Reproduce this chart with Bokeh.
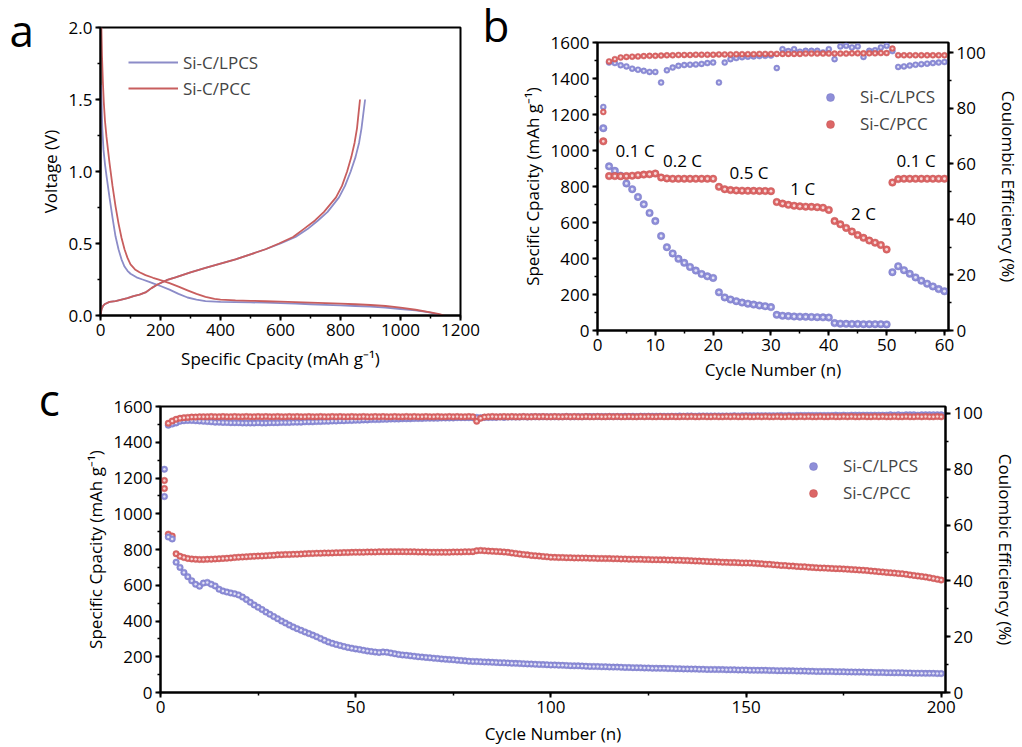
from bokeh.plotting import figure
from bokeh.models import (Range1d, LinearAxis, SingleIntervalTicker, Legend, LegendItem,
                          Label, NumeralTickFormatter)
from bokeh.layouts import column, row
from bokeh.embed import file_html
from bokeh.resources import INLINE
from bokeh.core.properties import value

FONT = "Open Sans"
BLUE = "#8e8ed8"
BLUE_EDGE = "#7070c0"
RED = "#dc6666"
RED_EDGE = "#c04c4c"
BLUE_LINE = "#8c8cc8"
RED_LINE = "#c85e5e"
SERIES = ["Si-C/LPCS", "Si-C/PCC"]

# ---------------- panel a : voltage profiles ----------------
lpcs_dis_cap = [2, 4, 6, 10, 15, 20, 30, 40, 50, 60, 70, 80, 90, 100, 120, 140, 160, 180, 200, 230,
                260, 290, 320, 350, 400, 450, 500, 550, 600, 650, 700, 750, 800, 850, 900, 950, 1000,
                1050, 1080, 1100, 1120, 1135]
lpcs_dis_v = [1.60, 1.45, 1.30, 1.15, 1.05, 0.97, 0.82, 0.68, 0.55, 0.46, 0.39, 0.34, 0.31, 0.29, 0.265,
              0.25, 0.235, 0.22, 0.205, 0.18, 0.15, 0.125, 0.11, 0.10, 0.095, 0.093, 0.091, 0.089, 0.086,
              0.082, 0.078, 0.074, 0.07, 0.066, 0.062, 0.055, 0.045, 0.035, 0.027, 0.02, 0.01, 0.0]
pcc_dis_cap = [3, 5, 8, 11, 15, 20, 30, 40, 50, 60, 70, 80, 90, 100, 115, 130, 150, 175, 200, 230, 260,
               290, 320, 350, 380, 400, 450, 500, 550, 600, 650, 700, 750, 800, 850, 900, 950, 1000, 1050,
               1100, 1130, 1145]
pcc_dis_v = [2.00, 1.80, 1.62, 1.48, 1.35, 1.24, 1.06, 0.90, 0.76, 0.64, 0.54, 0.46, 0.40, 0.355, 0.32,
             0.30, 0.28, 0.262, 0.245, 0.225, 0.2, 0.175, 0.15, 0.13, 0.115, 0.11, 0.105, 0.102, 0.099,
             0.096, 0.093, 0.09, 0.086, 0.082, 0.078, 0.073, 0.066, 0.055, 0.04, 0.022, 0.01, 0.0]
lpcs_ch_cap = [0, 3, 8, 15, 30, 50, 70, 90, 110, 130, 150, 170, 190, 220, 250, 300, 350, 400, 450, 500,
               550, 600, 650, 690, 725, 757, 795, 815, 834, 850, 862, 870, 876, 882]
lpcs_ch_v = [0.0, 0.04, 0.065, 0.08, 0.095, 0.1, 0.11, 0.12, 0.135, 0.145, 0.16, 0.19, 0.215, 0.245,
             0.265, 0.3, 0.33, 0.36, 0.39, 0.425, 0.46, 0.5, 0.545, 0.6, 0.66, 0.72, 0.82, 0.9, 1.0, 1.1,
             1.2, 1.3, 1.4, 1.5]
pcc_ch_cap = [0, 3, 8, 15, 30, 50, 70, 90, 110, 130, 150, 170, 190, 220, 250, 300, 350, 400, 450, 500,
              550, 595, 642, 677, 715, 745, 785, 805, 822, 836, 847, 855, 860, 865]
pcc_ch_v = [0.0, 0.04, 0.065, 0.08, 0.095, 0.1, 0.11, 0.12, 0.135, 0.145, 0.16, 0.19, 0.215, 0.245,
            0.265, 0.3, 0.33, 0.36, 0.39, 0.425, 0.46, 0.5, 0.545, 0.6, 0.66, 0.72, 0.82, 0.9, 1.0, 1.1,
            1.2, 1.3, 1.4, 1.5]

# ---------------- panel b : rate performance ----------------
cycles_b = list(range(1, 61))
lpcs_cap_b = [1124, 912, 887, 860, 817, 785, 742, 701, 653, 608,
              525, 463, 428, 398, 376, 353, 333, 314, 301, 292,
              212, 184, 172, 163, 155, 149, 144, 139, 135, 130,
              87, 82, 80, 78, 77, 76, 75, 74, 73, 72,
              41, 38, 37, 36, 36, 35, 35, 35, 35, 34,
              324, 357, 335, 315, 295, 277, 260, 245, 230, 218]
pcc_cap_b = [1051, 858, 858, 857, 858, 860, 863, 866, 868, 872,
             850, 845, 843, 843, 843, 843, 843, 843, 843, 843,
             798, 785, 780, 778, 777, 776, 776, 775, 775, 774,
             714, 705, 698, 693, 690, 688, 687, 685, 682, 670,
             608, 590, 570, 550, 530, 515, 500, 488, 475, 450,
             822, 841, 843, 843, 843, 843, 843, 843, 843, 843]
lpcs_ce_b = [80.4, 96.4, 96.2, 95.4, 95.0, 94.2, 93.8, 93.4, 93.0, 93.0,
             89.2, 93.6, 94.6, 95.2, 95.5, 95.6, 95.7, 95.9, 96.2, 96.4,
             89.2, 96.4, 97.6, 98.0, 98.3, 98.5, 98.6, 98.7, 98.8, 98.9,
             94.4, 101.2, 100.5, 101.2, 100.3, 100.6, 100.6, 100.6, 100.0, 101.2,
             97.6, 102.2, 102.4, 101.8, 102.2, 98.4, 100.6, 100.8, 101.8, 102.4,
             100.5, 94.8, 95.0, 95.3, 95.6, 95.8, 96.0, 96.2, 96.4, 96.6]
pcc_ce_b = [78.6, 96.8, 97.6, 98.2, 98.4, 98.5, 98.6, 98.7, 98.8, 98.8,
            98.9, 99.0, 99.0, 99.1, 99.1, 99.1, 99.2, 99.2, 99.2, 99.2,
            99.3, 99.3, 99.3, 99.4, 99.4, 99.4, 99.4, 99.5, 99.5, 99.5,
            99.5, 99.5, 99.5, 99.5, 99.5, 99.6, 99.6, 99.6, 99.6, 99.6,
            99.6, 99.6, 99.6, 99.7, 99.7, 99.7, 99.7, 99.7, 99.8, 99.8,
            101.4, 99.0, 99.0, 99.0, 99.0, 99.0, 99.0, 99.0, 99.0, 99.0]
rate_labels = ["0.1 C", "0.2 C", "0.5 C", "1 C", "2 C", "0.1 C"]
rate_label_x = [6.5, 14.7, 26.2, 35.5, 46.0, 55.1]
rate_label_y = [999, 943, 878, 789, 651, 943]

# ---------------- panel c : long cycling ----------------
cycles_c = list(range(1, 201))
lpcs_cap_c = [1096, 870, 859, 729, 700, 672, 648, 625, 605, 595,
              612, 616, 606, 596, 578, 568, 562, 557, 552, 546,
              534, 520, 505, 490, 477, 464, 450, 438, 425, 413,
              400, 389, 377, 367, 357, 348, 339, 330, 321, 312,
              302, 292, 283, 275, 269, 263, 257, 252, 248, 244,
              240, 236, 232, 229, 226, 224, 227, 225, 221, 217,
              213, 210, 208, 205, 203, 200, 198, 196, 194, 192,
              190, 188, 186, 184, 183, 181, 179, 177, 175, 174,
              173, 172, 171, 170, 169, 168, 167, 166, 165, 164,
              163, 162, 161, 160, 159, 158, 157, 156, 155, 154,
              154, 153, 152, 151, 150, 149, 149, 148, 147, 146,
              146, 145, 144, 144, 143, 142, 142, 141, 140, 140,
              139, 139, 138, 137, 137, 136, 136, 135, 135, 134,
              134, 133, 133, 132, 132, 131, 131, 130, 130, 129,
              129, 129, 128, 128, 127, 127, 127, 126, 126, 126,
              125, 125, 124, 124, 124, 123, 123, 122, 122, 122,
              121, 121, 120, 120, 120, 119, 119, 118, 118, 118,
              117, 117, 116, 116, 116, 115, 115, 114, 114, 114,
              113, 113, 112, 112, 112, 111, 111, 110, 110, 110,
              109, 109, 108, 108, 108, 107, 107, 107, 106, 106]
pcc_cap_c = [1141, 886, 875, 776, 762, 755, 750, 747, 745, 744,
             744, 745, 746, 747, 748, 750, 751, 753, 755, 757,
             758, 759, 761, 762, 763, 764, 765, 767, 768, 770,
             771, 772, 772, 773, 774, 775, 776, 777, 778, 779,
             779, 780, 780, 781, 782, 782, 783, 783, 784, 785,
             785, 785, 786, 786, 786, 787, 787, 787, 788, 788,
             788, 788, 787, 787, 787, 786, 786, 786, 785, 785,
             785, 785, 785, 785, 786, 786, 786, 787, 787, 788,
             793, 795, 793, 791, 790, 789, 788, 786, 784, 781,
             778, 775, 772, 770, 767, 765, 763, 761, 759, 757,
             756, 755, 755, 754, 754, 753, 753, 752, 752, 751,
             751, 750, 750, 749, 749, 748, 748, 747, 747, 746,
             746, 745, 745, 744, 744, 743, 743, 742, 742, 741,
             741, 740, 740, 739, 738, 737, 736, 735, 734, 733,
             732, 731, 730, 729, 728, 727, 727, 726, 725, 725,
             724, 723, 721, 720, 718, 717, 715, 713, 711, 710,
             708, 707, 705, 704, 703, 701, 700, 698, 697, 696,
             695, 694, 693, 692, 691, 690, 688, 687, 685, 684,
             682, 680, 678, 676, 674, 672, 670, 668, 666, 664,
             661, 658, 655, 652, 649, 646, 642, 638, 634, 629]
lpcs_ce_c = [80.0, 95.8, 96.2, 96.6, 97.2, 97.4, 97.5, 97.5, 97.4, 97.3,
             97.2, 97.1, 97.0, 96.9, 96.9, 96.8, 96.8, 96.7, 96.7, 96.7,
             96.6, 96.6, 96.6, 96.6, 96.7, 96.6, 96.6, 96.7, 96.7, 96.7,
             96.8, 96.8, 96.8, 96.9, 96.9, 96.9, 97.0, 97.0, 97.0, 97.1,
             97.1, 97.2, 97.2, 97.3, 97.3, 97.4, 97.4, 97.5, 97.5, 97.6,
             97.6, 97.7, 97.7, 97.8, 97.8, 97.8, 97.9, 97.9, 98.0, 98.0,
             98.0, 98.1, 98.1, 98.1, 98.2, 98.2, 98.2, 98.3, 98.3, 98.3,
             98.3, 98.4, 98.4, 98.4, 98.4, 98.5, 98.5, 98.5, 98.5, 98.5,
             98.6, 98.5, 98.6, 98.6, 98.6, 98.6, 98.7, 98.6, 98.7, 98.7,
             98.7, 98.7, 98.8, 98.7, 98.8, 98.8, 98.8, 98.8, 98.8, 98.8,
             98.8, 98.8, 98.8, 98.9, 98.8, 98.8, 98.9, 98.8, 98.9, 98.9,
             98.9, 98.9, 98.9, 98.9, 98.9, 98.9, 98.9, 98.9, 99.0, 98.9,
             99.0, 98.9, 99.0, 99.0, 99.0, 99.0, 99.0, 99.0, 99.0, 99.0,
             99.0, 99.0, 99.1, 99.0, 99.1, 99.1, 99.0, 99.1, 99.1, 99.1,
             99.1, 99.1, 99.1, 99.1, 99.1, 99.1, 99.2, 99.1, 99.2, 99.2,
             99.2, 99.2, 99.2, 99.2, 99.2, 99.2, 99.2, 99.2, 99.3, 99.2,
             99.3, 99.2, 99.3, 99.3, 99.3, 99.3, 99.3, 99.3, 99.3, 99.3,
             99.3, 99.3, 99.4, 99.3, 99.4, 99.3, 99.4, 99.4, 99.4, 99.4,
             99.4, 99.4, 99.4, 99.4, 99.4, 99.4, 99.5, 99.4, 99.5, 99.4,
             99.5, 99.5, 99.5, 99.4, 99.5, 99.5, 99.5, 99.5, 99.5, 99.5]
pcc_ce_c = [76.0, 96.5, 97.3, 97.9, 98.3, 98.5, 98.6, 98.7, 98.7, 98.8,
            98.8, 98.8, 98.9, 98.8, 98.8, 98.9, 98.8, 98.8, 98.9, 98.8,
            98.8, 98.9, 98.8, 98.8, 98.9, 98.8, 98.9, 98.8, 98.8, 98.9,
            98.8, 98.8, 98.9, 98.8, 98.9, 98.8, 98.8, 98.9, 98.8, 98.8,
            98.9, 98.8, 98.8, 98.9, 98.8, 98.9, 98.8, 98.8, 98.9, 98.8,
            98.8, 98.9, 98.8, 98.8, 98.9, 98.8, 98.9, 98.8, 98.8, 98.9,
            98.8, 98.8, 98.9, 98.8, 98.9, 98.8, 98.8, 98.9, 98.8, 98.8,
            98.9, 98.8, 98.8, 98.9, 98.8, 98.9, 98.8, 98.8, 98.9, 98.8,
            97.2, 98.3, 98.7, 98.8, 98.9, 98.8, 98.8, 98.9, 98.8, 98.9,
            98.8, 98.8, 98.9, 98.8, 98.8, 98.9, 98.8, 98.9, 98.8, 98.8,
            98.9, 98.8, 98.8, 98.9, 98.8, 98.9, 98.8, 98.8, 98.9, 98.8,
            98.8, 98.9, 98.8, 98.8, 98.9, 98.8, 98.9, 98.8, 98.8, 98.9,
            98.8, 98.8, 98.9, 98.8, 98.9, 98.8, 98.8, 98.9, 98.8, 98.8,
            98.9, 98.8, 98.8, 98.9, 98.8, 98.9, 98.8, 98.8, 98.9, 98.8,
            98.8, 98.9, 98.8, 98.8, 98.9, 98.8, 98.9, 98.8, 98.8, 98.9,
            98.8, 98.8, 98.9, 98.8, 98.9, 98.8, 98.8, 98.9, 98.8, 98.8,
            98.9, 98.8, 98.8, 98.9, 98.8, 98.9, 98.8, 98.8, 98.9, 98.8,
            98.8, 98.9, 98.8, 98.8, 98.9, 98.8, 98.9, 98.8, 98.8, 98.9,
            98.8, 98.8, 98.9, 98.8, 98.9, 98.8, 98.8, 98.9, 98.8, 98.8,
            98.9, 98.8, 98.8, 98.9, 98.8, 98.9, 98.8, 98.8, 98.9, 98.8]


def style_axis(ax):
    ax.axis_line_width = 2
    ax.axis_line_color = "black"
    ax.major_tick_line_width = 2
    ax.major_tick_line_color = "black"
    ax.minor_tick_line_width = 1.5
    ax.minor_tick_line_color = "black"
    ax.major_tick_in = 0
    ax.major_tick_out = 5
    ax.minor_tick_in = 0
    ax.minor_tick_out = 3
    ax.major_label_text_font = FONT
    ax.major_label_text_font_size = "17px"
    ax.major_label_text_color = "black"
    ax.major_label_standoff = 3
    ax.axis_label_text_font = FONT
    ax.axis_label_text_font_size = "17px"
    ax.axis_label_text_font_style = "normal"
    ax.axis_label_text_color = "black"
    ax.axis_label_standoff = 4


def base_fig(width, height, xr, yr, bl, br, bt, bb, **kw):
    p = figure(width=width, height=height, x_range=xr, y_range=yr, output_backend="svg",
               toolbar_location=None, min_border_left=bl, min_border_right=br,
               min_border_top=bt, min_border_bottom=bb, title=None, **kw)
    p.grid.visible = False
    p.outline_line_color = "black"
    p.outline_line_width = 2
    p.outline_line_alpha = 1
    p.background_fill_color = "white"
    p.border_fill_color = "white"
    return p


def panel_letter(p, text, x, y, side="left"):
    # placed in a side panel so that it is not clipped to the plot frame
    p.add_layout(Label(x=x, y=y, text=text, text_font=FONT, text_font_size="44px",
                       text_color="black", text_baseline="alphabetic", text_align="left"), side)


def spheres(p, x, y, color, edge, size, y_range_name="default"):
    r1 = p.scatter(x, y, size=size, fill_color=color, line_color=edge, line_width=0.6,
                   line_alpha=0.7, y_range_name=y_range_name)
    p.scatter(x, y, size=size * 0.38, fill_color="white", fill_alpha=0.75, line_color=None,
              y_range_name=y_range_name)
    return r1


# ---------- figure a ----------
pa = base_fig(515, 375, Range1d(0, 1200), Range1d(0, 2.0), 100, 55, 27, 60)
la1 = pa.line(lpcs_dis_cap, lpcs_dis_v, line_color=BLUE_LINE, line_width=1.8)
pa.line(lpcs_ch_cap, lpcs_ch_v, line_color=BLUE_LINE, line_width=1.8)
lb1 = pa.line(pcc_dis_cap, pcc_dis_v, line_color=RED_LINE, line_width=1.8)
pa.line(pcc_ch_cap, pcc_ch_v, line_color=RED_LINE, line_width=1.8)
pa.xaxis.ticker = SingleIntervalTicker(interval=200, num_minor_ticks=2)
pa.yaxis.ticker = SingleIntervalTicker(interval=0.5, num_minor_ticks=2)
pa.yaxis.formatter = NumeralTickFormatter(format="0.0")
pa.xaxis.axis_label = "Specific Cpacity (mAh g\u207b\u00b9)"
pa.yaxis.axis_label = "Voltage (V)"
for ax in pa.axis:
    style_axis(ax)
pa.xaxis.axis_label_standoff = 8
leg_a = Legend(items=[LegendItem(label=SERIES[0], renderers=[la1]),
                      LegendItem(label=SERIES[1], renderers=[lb1])],
               location=(28, 214), border_line_color=None, background_fill_alpha=0,
               label_text_font=FONT, label_text_font_size="17px", glyph_width=50, glyph_height=20,
               label_height=26, spacing=0, padding=0, margin=0, label_standoff=5)
pa.add_layout(leg_a)
panel_letter(pa, "a", -303, 1.98)
# letter of panel b sits left of panel b's canvas, so it is drawn from panel a's right margin
panel_letter(pa, "b", 1273, 2.014, side="right")

# ---------- figure b ----------
pb = base_fig(507, 375, Range1d(0, 60.7), Range1d(0, 1600), 82, 68, 27, 60, margin=(15, 0, 0, 0))
pb.extra_y_ranges = {"ce": Range1d(0, 103.6)}
rb_lc = spheres(pb, cycles_b, lpcs_cap_b, BLUE, BLUE_EDGE, 7.5)
rb_pc = spheres(pb, cycles_b, pcc_cap_b, RED, RED_EDGE, 7.5)
spheres(pb, cycles_b, lpcs_ce_b, BLUE, BLUE_EDGE, 6, "ce")
spheres(pb, cycles_b, pcc_ce_b, RED, RED_EDGE, 6, "ce")
pb.text(rate_label_x, rate_label_y, text=rate_labels, text_font=value(FONT), text_font_size="17px",
        text_align="center", text_baseline="middle", text_color="black")
pb.xaxis.ticker = SingleIntervalTicker(interval=10, num_minor_ticks=2)
pb.yaxis.ticker = SingleIntervalTicker(interval=200, num_minor_ticks=2)
pb.xaxis.axis_label = "Cycle Number (n)"
pb.yaxis.axis_label = "Specific Cpacity (mAh g\u207b\u00b9)"
rb_ax = LinearAxis(y_range_name="ce", axis_label="Coulombic Efficiency (%)",
                   ticker=SingleIntervalTicker(interval=20, num_minor_ticks=2))
pb.add_layout(rb_ax, "right")
for ax in pb.axis:
    style_axis(ax)
rb_ax.axis_label_standoff = 8
leg_b = Legend(items=[LegendItem(label=SERIES[0], renderers=[rb_lc]),
                      LegendItem(label=SERIES[1], renderers=[rb_pc])],
               location=(223, 193), border_line_color=None, background_fill_alpha=0,
               label_text_font=FONT, label_text_font_size="17px", glyph_width=20, glyph_height=20,
               label_height=27, spacing=0, padding=0, margin=0, label_standoff=20)
pb.add_layout(leg_b)

# ---------- figure c ----------
pc = base_fig(1022, 357, Range1d(0, 201.1), Range1d(0, 1600), 160, 77, 16, 53)
pc.extra_y_ranges = {"ce": Range1d(0, 102.5)}
spheres(pc, cycles_c, lpcs_ce_c, BLUE, BLUE_EDGE, 6.5, "ce")
spheres(pc, cycles_c, pcc_ce_c, RED, RED_EDGE, 6.5, "ce")
rc_pc = spheres(pc, cycles_c, pcc_cap_c, RED, RED_EDGE, 6.5)
rc_lc = spheres(pc, cycles_c, lpcs_cap_c, BLUE, BLUE_EDGE, 6.5)
pc.xaxis.ticker = SingleIntervalTicker(interval=50, num_minor_ticks=2)
pc.yaxis.ticker = SingleIntervalTicker(interval=200, num_minor_ticks=2)
pc.xaxis.axis_label = "Cycle Number (n)"
pc.yaxis.axis_label = "Specific Cpacity (mAh g\u207b\u00b9)"
rc_ax = LinearAxis(y_range_name="ce", axis_label="Coulombic Efficiency (%)",
                   ticker=SingleIntervalTicker(interval=20, num_minor_ticks=2))
pc.add_layout(rc_ax, "right")
for ax in pc.axis:
    style_axis(ax)
pc.xaxis.axis_label_standoff = 6
rc_ax.axis_label_standoff = 8
leg_c = Legend(items=[LegendItem(label=SERIES[0], renderers=[rc_lc]),
                      LegendItem(label=SERIES[1], renderers=[rc_pc])],
               location=(643, 186), border_line_color=None, background_fill_alpha=0,
               label_text_font=FONT, label_text_font_size="17px", glyph_width=20, glyph_height=20,
               label_height=27, spacing=0, padding=0, margin=0, label_standoff=20)
pc.add_layout(leg_c)
panel_letter(pc, "c", -31.2, 1640)

layout = column(row(pa, pb, spacing=0), pc, spacing=0)
open("out.html", "w").write(file_html(layout, INLINE))
